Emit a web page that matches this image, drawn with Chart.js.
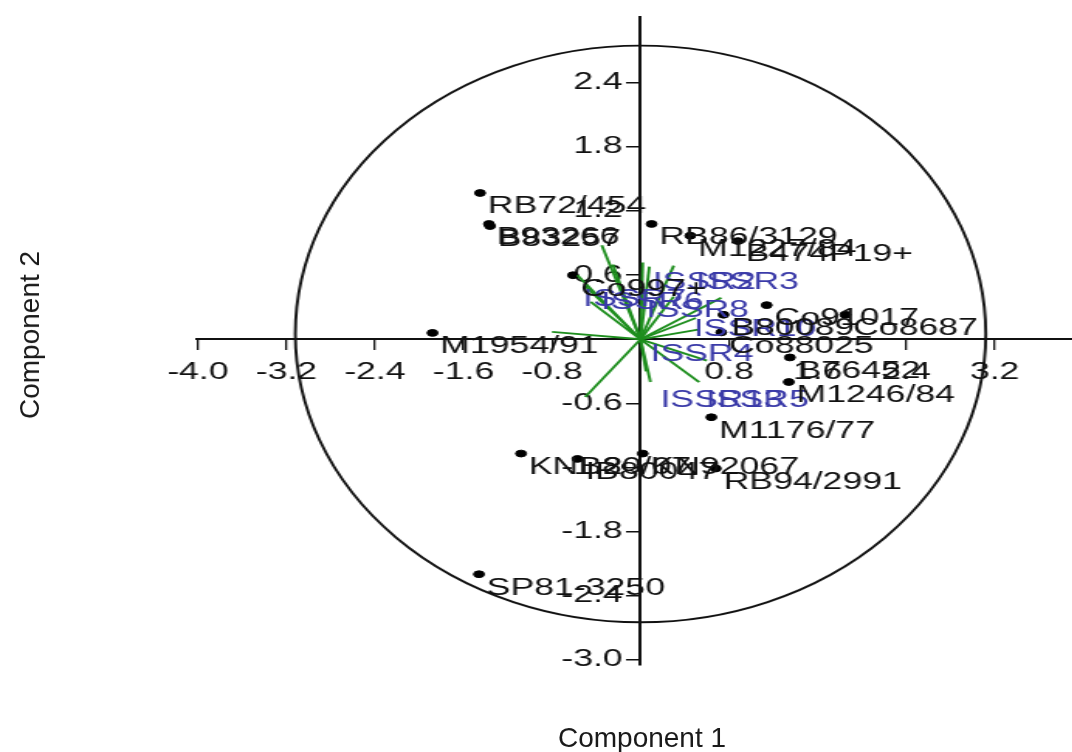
<!DOCTYPE html>
<html lang="en">
<head>
<meta charset="UTF-8">
<title>PCA biplot</title>
<script src="https://cdn.jsdelivr.net/npm/chart.js/dist/chart.umd.min.js"></script>
<style>
  body { margin: 0; padding: 0; background: #fff; }
  .wrap { position: relative; width: 1072px; height: 752px; overflow: hidden; }
  #biplot { position: absolute; left: 0; top: 0; }
  .axis-title {
    position: absolute;
    font-family: 'Liberation Sans', Arial, sans-serif;
    font-size: 28px;
    line-height: 1;
    color: #1a1a1a;
    white-space: nowrap;
  }
  #titleX { left: 642px; top: 738px; transform: translate(-50%, -50%); }
  #titleY { left: 30px; top: 335px; transform: translate(-50%, -50%) rotate(-90deg); }
</style>
</head>
<body>
<div class="wrap">
  <!-- the source image is stretched sideways, so the canvas is drawn narrow and widened by css;
       a few extra pixels run past the right edge and are cut off by the wrapper -->
  <canvas id="biplot" width="697" height="752" style="width:1080px;height:752px"></canvas>
  <div class="axis-title" id="titleX">Component 1</div>
  <div class="axis-title" id="titleY">Component 2</div>
</div>

<script>
// genotypes (scores)
const pointNames = ['RB72/454', 'B93266', 'B83257', 'RB86/3129', 'M1227/84', 'B474P19+',
  'Co997+', 'Co91017', 'B80089', 'Co8687', 'Co88025', 'M1954/91', 'B76452', 'M1246/84',
  'M1176/77', 'KNB80/07', 'IB80047', 'KN92067', 'RB94/2991', 'SP81-3250'];
const pointX = [-1.45, -1.37, -1.36, 0.10, 0.45, 0.88, -0.61, 1.14, 0.75, 1.85, 0.73, -1.88,
  1.35, 1.34, 0.64, -1.08, -0.57, 0.02, 0.68, -1.46];
const pointY = [1.37, 1.08, 1.06, 1.08, 0.97, 0.92, 0.60, 0.32, 0.23, 0.23, 0.065, 0.06,
  -0.17, -0.40, -0.73, -1.07, -1.12, -1.07, -1.21, -2.20];

// marker loadings (vector tips)
const vectorX = [-0.35, -0.25, -0.57, -0.50, -0.45, -0.80, -0.50, 0.02, 0.08, 0.30,
  0.73, 0.50, 0.52, 0.60, 0.53, 0.09, 0.05, 0.30];
const vectorY = [0.88, 0.70, 0.60, 0.50, 0.35, 0.07, -0.54, 0.72, 0.68, 0.69,
  0.39, 0.20, 0.09, -0.20, -0.40, -0.40, -0.30, 0.40];

// marker names and where they sit
const markerNames = ['ISSR2', 'ISSR3', 'ISSR7', 'ISSR6', 'ISSR8', 'ISSR10', 'ISSR4', 'ISSR13', 'ISSR5'];
const markerX = [0.11, 0.50, -0.52, -0.36, 0.05, 0.48, 0.09, 0.18, 0.59];
const markerY = [0.53, 0.53, 0.37, 0.34, 0.27, 0.09, -0.14, -0.57, -0.57];

const xTicks = [-4.0, -3.2, -2.4, -1.6, -0.8, 0.8, 1.6, 2.4, 3.2];
const yTicks = [2.4, 1.8, 1.2, 0.6, -0.6, -1.2, -1.8, -2.4, -3.0];

// ellipse drawn round the scores
const ringCenter = { x: 0.0, y: 0.05 };
const ringRadius = { x: 3.12, y: 2.70 };

const FONT = "'Liberation Sans', Arial, sans-serif";
const INK = '#111';

const vectorSets = vectorX.map((vx, i) => ({
  type: 'line',
  data: [{ x: 0, y: 0 }, { x: vx, y: vectorY[i] }],
  borderColor: '#1e8e1e',
  borderWidth: 1.9,
  pointRadius: 0,
  fill: false
}));

const ringPlugin = {
  id: 'ring',
  beforeDatasetsDraw(chart) {
    const { ctx, scales: { x, y } } = chart;
    const cx = x.getPixelForValue(ringCenter.x);
    const cy = y.getPixelForValue(ringCenter.y);
    const rx = Math.abs(x.getPixelForValue(ringCenter.x + ringRadius.x) - cx);
    const ry = Math.abs(y.getPixelForValue(ringCenter.y + ringRadius.y) - cy);
    ctx.save();
    ctx.beginPath();
    ctx.ellipse(cx, cy, rx, ry, 0, 0, Math.PI * 2);
    ctx.strokeStyle = INK;
    ctx.lineWidth = 1.9;
    ctx.stroke();
    ctx.restore();
  }
};

const labelPlugin = {
  id: 'labels',
  afterDatasetsDraw(chart) {
    const { ctx, scales: { x, y } } = chart;
    ctx.save();
    ctx.font = '23px ' + FONT;
    ctx.textAlign = 'left';
    ctx.textBaseline = 'middle';
    // blue marker names
    ctx.fillStyle = '#3a3aa8';
    markerNames.forEach((name, i) => {
      ctx.fillText(name, x.getPixelForValue(markerX[i]), y.getPixelForValue(markerY[i]));
    });
    // black genotype names, just below right of each dot
    ctx.fillStyle = INK;
    pointNames.forEach((name, i) => {
      ctx.fillText(name, x.getPixelForValue(pointX[i]) + 5, y.getPixelForValue(pointY[i]) + 14);
    });
    ctx.restore();
  }
};

new Chart(document.getElementById('biplot'), {
  type: 'scatter',
  data: {
    datasets: [
      ...vectorSets,
      {
        data: pointX.map((v, i) => ({ x: v, y: pointY[i] })),
        backgroundColor: '#000',
        borderColor: '#000',
        pointRadius: 3.4,
        pointHoverRadius: 3.4
      }
    ]
  },
  options: {
    responsive: false,
    animation: false,
    devicePixelRatio: 1,
    layout: { padding: { left: 127, right: 0, top: 12, bottom: 87 } },
    plugins: { legend: { display: false }, tooltip: { enabled: false } },
    scales: {
      x: {
        type: 'linear',
        min: -4.01,
        max: 3.91,
        position: { y: 0 },
        afterBuildTicks: s => { s.ticks = xTicks.map(v => ({ value: v })); },
        ticks: {
          autoSkip: false,
          maxRotation: 0,
          padding: 10,
          color: INK,
          font: { family: FONT, size: 23 },
          callback: v => Number(v).toFixed(1)
        },
        grid: { drawOnChartArea: false, drawTicks: true, tickLength: 10, color: INK, lineWidth: 1.3 },
        border: { display: true, color: INK, width: 2 }
      },
      y: {
        type: 'linear',
        min: -3.05,
        max: 3.02,
        position: { x: 0 },
        afterBuildTicks: s => { s.ticks = yTicks.map(v => ({ value: v })); },
        ticks: {
          autoSkip: false,
          color: INK,
          font: { family: FONT, size: 23 },
          // en space keeps the label clear of the tick mark
          callback: v => Number(v).toFixed(1) + '\u2002'
        },
        grid: { drawOnChartArea: false, drawTicks: true, tickLength: 8, color: INK, lineWidth: 1.5 },
        border: { display: true, color: INK, width: 2 }
      }
    }
  },
  plugins: [ringPlugin, labelPlugin]
});
</script>
</body>
</html>
